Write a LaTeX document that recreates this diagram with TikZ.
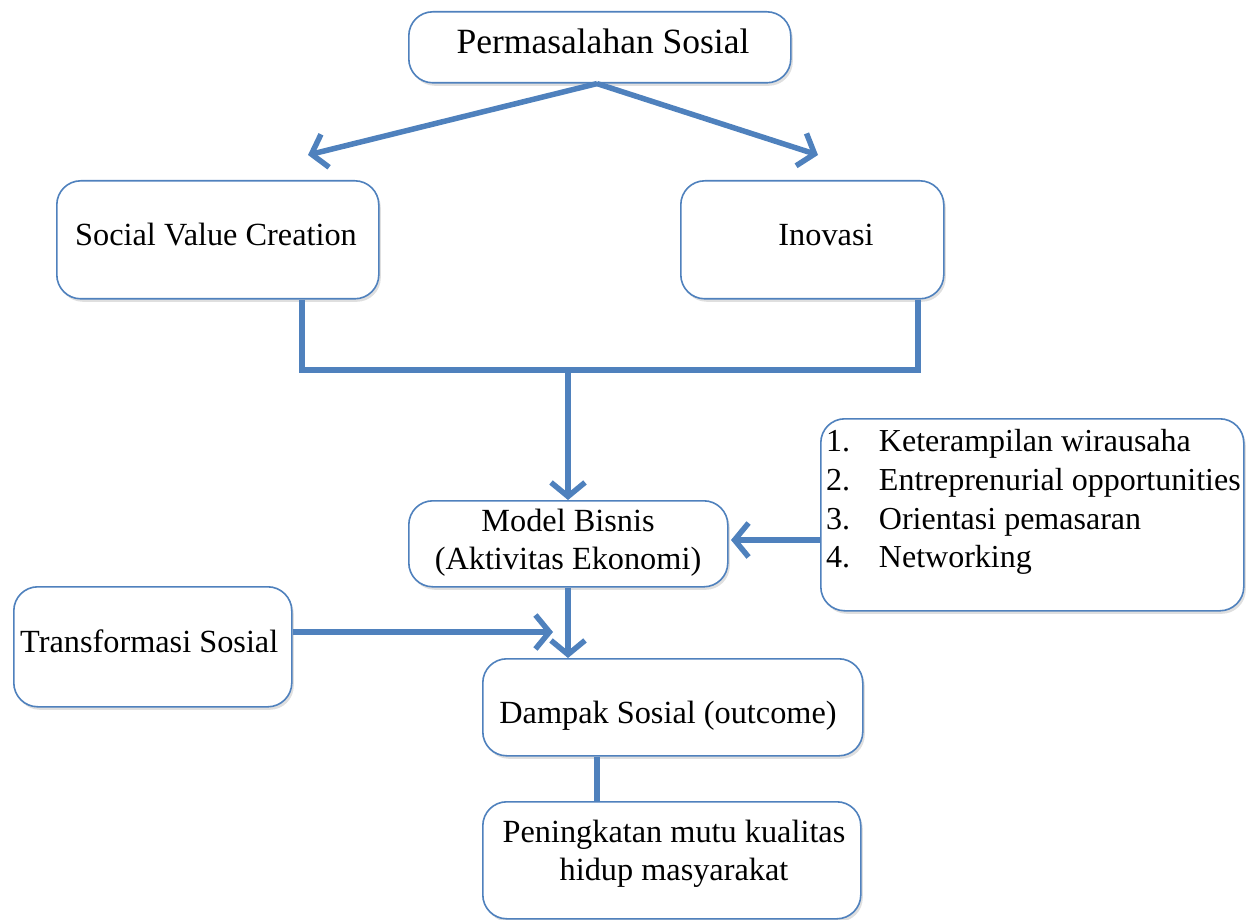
\documentclass[tikz,border=0pt]{standalone}
\usepackage{fontspec}
\setmainfont{Liberation Serif}
\usetikzlibrary{arrows.meta,shadows}
\definecolor{lineblue}{HTML}{4F81BD}
\tikzset{
  x=1pt,y=-1pt,
  box/.style={draw=lineblue,line width=1.6pt,rounded corners=24pt,fill=white,
    drop shadow={opacity=0.25,shadow xshift=2pt,shadow yshift=-3pt},
    inner sep=0pt,anchor=north west},
  txt/.style={font=\fontsize{32.3}{38}\selectfont,inner sep=0pt,align=center},
  conn/.style={draw=lineblue,line width=5.5pt},
  arr/.style={conn,-{Straight Barb[length=14pt,width=34pt,line width=5.5pt]}},
}
\begin{document}
\begin{tikzpicture}
\useasboundingbox (0,0) rectangle (1251,920);
% boxes
\node[box,minimum width=382,minimum height=71] (perm) at (408,11) {};
\node[box,minimum width=322,minimum height=118] (svc) at (56,180) {};
\node[box,minimum width=263,minimum height=118] (inov) at (680,180) {};
\node[box,minimum width=319,minimum height=86] (model) at (408,500) {};
\node[box,minimum width=423,minimum height=192] (list) at (820,418) {};
\node[box,minimum width=278,minimum height=120] (trans) at (13,586) {};
\node[box,minimum width=380,minimum height=97] (damp) at (482,658) {};
\node[box,minimum width=378,minimum height=117] (pen) at (482,801) {};
% texts
\node[txt,font=\fontsize{35.5}{40}\selectfont] (tperm) at (603,41) {Permasalahan Sosial};
\node[txt] (tsvc) at (216,235) {Social Value Creation};
\node[txt] (tinov) at (826,235) {Inovasi};
\node[txt] (tmodel) at (568,543) {Model Bisnis\\(Aktivitas Ekonomi)};
\node[txt,anchor=west,align=left,font=\fontsize{32}{38.8}\selectfont] (tlist) at (826,502) {%
1.\hspace{0.9em}Keterampilan wirausaha\\
2.\hspace{0.9em}Entreprenurial opportunities\\
3.\hspace{0.9em}Orientasi pemasaran\\
4.\hspace{0.9em}Networking};
\node[txt,anchor=west] (ttrans) at (20,641) {Transformasi Sosial};
\node[txt] (tdamp) at (668,716) {Dampak Sosial (outcome)};
\node[txt] (tpen) at (674,854) {Peningkatan mutu kualitas\\hidup masyarakat};
% connectors
\coordinate (top) at (perm.south -| 597,0);
\coordinate (l1) at (308,155);
\coordinate (r1) at (818,155);
\draw[arr] (top) -- (l1);
\draw[arr] (top) -- (r1);
\coordinate (bl) at (302,370);
\coordinate (br) at (918,370);
\draw[conn] (svc.south -| bl) -- (bl) -- (br) -- (inov.south -| br);
\coordinate (bm) at (568,370);
\draw[arr] (bm) -- (model.north -| bm);
\draw[arr] (model.south -| 568,0) -- (damp.north -| 568,0);
\coordinate (ta) at (553,632);
\draw[arr] (trans.east |- ta) -- (ta);
\coordinate (la) at (731,540);
\draw[arr] (list.west |- la) -- (la);
\draw[conn] (damp.south -| 597,0) -- (pen.north -| 597,0);
\end{tikzpicture}
\end{document}
